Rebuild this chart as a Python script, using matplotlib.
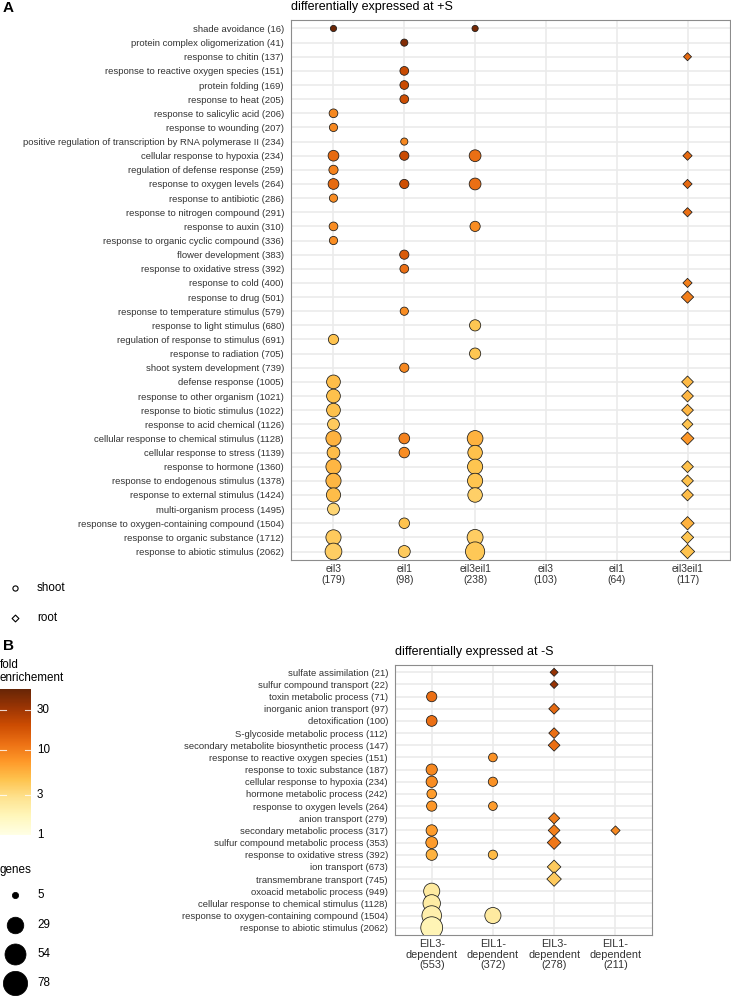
import numpy as np
import matplotlib
matplotlib.use("Agg")
import matplotlib.pyplot as plt
from matplotlib.colors import LogNorm

plt.rcParams['font.family'] = ['Liberation Sans', 'DejaVu Sans']

# ---------------- data: panel A ----------------
A_terms = [
    "shade avoidance (16)", "protein complex oligomerization (41)", "response to chitin (137)",
    "response to reactive oxygen species (151)", "protein folding (169)", "response to heat (205)",
    "response to salicylic acid (206)", "response to wounding (207)",
    "positive regulation of transcription by RNA polymerase II (234)",
    "cellular response to hypoxia (234)", "regulation of defense response (259)",
    "response to oxygen levels (264)", "response to antibiotic (286)",
    "response to nitrogen compound (291)", "response to auxin (310)",
    "response to organic cyclic compound (336)", "flower development (383)",
    "response to oxidative stress (392)", "response to cold (400)", "response to drug (501)",
    "response to temperature stimulus (579)", "response to light stimulus (680)",
    "regulation of response to stimulus (691)", "response to radiation (705)",
    "shoot system development (739)", "defense response (1005)",
    "response to other organism (1021)", "response to biotic stimulus (1022)",
    "response to acid chemical (1126)", "cellular response to chemical stimulus (1128)",
    "cellular response to stress (1139)", "response to hormone (1360)",
    "response to endogenous stimulus (1378)", "response to external stimulus (1424)",
    "multi-organism process (1495)", "response to oxygen-containing compound (1504)",
    "response to organic substance (1712)", "response to abiotic stimulus (2062)"]
A_columns = ["eil3\n(179)", "eil1\n(98)", "eil3eil1\n(238)", "eil3\n(103)", "eil1\n(64)", "eil3eil1\n(117)"]
A_tissue = ["shoot", "shoot", "shoot", "root", "root", "root"]

# column 0: eil3 shoot
A0_rows  = [0, 6, 7, 9, 10, 11, 12, 14, 15, 22, 25, 26, 27, 28, 29, 30, 31, 32, 33, 34, 36, 37]
A0_genes = [5, 6.4, 5.9, 9.6, 7, 9.6, 5.9, 6.4, 5.9, 8.6, 17.7, 17.7, 17.7, 12, 23, 14.5, 23, 23, 19.4, 12.3, 23, 30]
A0_fold  = [50, 9, 9, 13, 9.5, 13, 8.5, 8.5, 8.5, 4.5, 4.8, 4.6, 4.6, 4.0, 5.5, 4.8, 5.2, 5.2, 4.8, 3.4, 4.0, 3.8]
# column 1: eil1 shoot
A1_rows  = [1, 3, 4, 5, 8, 9, 11, 16, 17, 20, 24, 29, 30, 35, 37]
A1_genes = [5.2, 6.4, 6.4, 6.4, 5.2, 7, 7, 7, 6.4, 5.9, 7, 9.6, 9.2, 9.2, 12.3]
A1_fold  = [40, 20, 20, 19, 9, 20, 19, 16, 12, 8.5, 9, 9.5, 8.5, 4.5, 4.0]
# column 2: eil3eil1 shoot
A2_rows  = [0, 9, 11, 14, 21, 23, 29, 30, 31, 32, 33, 36, 37]
A2_genes = [5, 12, 12, 8.6, 10.6, 10.6, 25.3, 20.5, 23, 23, 20.5, 26.2, 43]
A2_fold  = [45, 12, 12, 8.5, 4.3, 4.3, 5.5, 4.6, 4.4, 4.4, 3.7, 3.8, 4.2]
# column 5: eil3eil1 root
A5_rows  = [2, 9, 11, 13, 18, 19, 25, 26, 27, 28, 29, 31, 32, 33, 35, 36, 37]
A5_genes = [5, 5.2, 5.2, 5.2, 5.2, 7.6, 7, 7, 7, 6.1, 8.3, 7, 7, 7, 9, 7.6, 10.6]
A5_fold  = [13, 13, 13, 12, 10, 10, 5, 5.2, 5.2, 4.5, 7.5, 4.6, 4.6, 4.8, 5.5, 4.4, 4.5]

# ---------------- data: panel B ----------------
B_terms = [
    "sulfate assimilation (21)", "sulfur compound transport (22)", "toxin metabolic process (71)",
    "inorganic anion transport (97)", "detoxification (100)", "S-glycoside metabolic process (112)",
    "secondary metabolite biosynthetic process (147)", "response to reactive oxygen species (151)",
    "response to toxic substance (187)", "cellular response to hypoxia (234)",
    "hormone metabolic process (242)", "response to oxygen levels (264)", "anion transport (279)",
    "secondary metabolic process (317)", "sulfur compound metabolic process (353)",
    "response to oxidative stress (392)", "ion transport (673)", "transmembrane transport (745)",
    "oxoacid metabolic process (949)", "cellular response to chemical stimulus (1128)",
    "response to oxygen-containing compound (1504)", "response to abiotic stimulus (2062)"]
B_columns = ["EIL3-\ndependent\n(553)", "EIL1-\ndependent\n(372)", "EIL3-\ndependent\n(278)", "EIL1-\ndependent\n(211)"]
B_tissue = ["shoot", "shoot", "root", "root"]

B0_rows  = [2, 4, 8, 9, 10, 11, 13, 14, 15, 18, 19, 20, 21]
B0_genes = [8.6, 9.6, 10.6, 10.6, 7.5, 8.6, 10.6, 12, 10.6, 27, 33, 45, 60]
B0_fold  = [12, 12, 9, 8.5, 7, 7.5, 7, 7, 5.5, 2.3, 2.2, 2.0, 1.8]
B1_rows  = [7, 9, 11, 15, 20]
B1_genes = [6.4, 7, 6.4, 7, 27]
B1_fold  = [8, 8, 7, 5, 2.3]
B2_rows  = [0, 1, 3, 5, 6, 12, 13, 14, 16, 17]
B2_genes = [5, 5, 6, 6, 7, 6.5, 7, 9.5, 9.5, 11]
B2_fold  = [33, 32, 13, 12, 12, 10, 10, 11, 4, 4]
B3_rows  = [13]
B3_genes = [5.2]
B3_fold  = [9]

# legends
fold_ticks = [1, 3, 10, 30]
fold_max = 53
gene_breaks = [5, 29, 54, 78]

# ---------------- drawing ----------------
W, H = 731, 997
fig = plt.figure(figsize=(W / 100, H / 100), dpi=100)
cmap = plt.get_cmap("YlOrBr")
norm = LogNorm(vmin=1, vmax=fold_max)
LW = 0.55
PX = 100 / 72.0


def add_ax(l, t, r, b):
    return fig.add_axes([l / W, 1 - b / H, (r - l) / W, (b - t) / H])


def circ_d(g):
    return 7 + 18 * np.sqrt((np.asarray(g, float) - 5) / 73)


def s_circle(g):
    return (circ_d(g) / PX - LW) ** 2


def s_diamond(g):
    diag = 1.2533 * circ_d(g) / PX - LW
    return (diag / np.sqrt(2)) ** 2


def panel(box, terms, cols, tissues, series, title, ylab_size, xlab_size, xls):
    ax = add_ax(*box)
    n, m = len(terms), len(cols)
    ax.set_xlim(-0.6, m - 1 + 0.6)
    ax.set_ylim(n - 1 + 0.6, -0.6)
    ax.set_xticks(range(m))
    ax.set_xticklabels(cols, fontsize=xlab_size, color="#333333", linespacing=xls)
    ax.set_yticks(range(n))
    ax.set_yticklabels(terms, fontsize=ylab_size, color="#333333")
    ax.tick_params(axis="y", length=0, pad=5)
    ax.tick_params(axis="x", length=0, pad=3)
    ax.grid(True, color="#ebebeb", lw=1.2)
    ax.set_axisbelow(True)
    for sp in ax.spines.values():
        sp.set_color("#8c8c8c")
        sp.set_linewidth(0.8)
    for col, (rows, genes, fold) in series.items():
        if tissues[col] == "shoot":
            ax.scatter([col] * len(rows), rows, s=s_circle(genes), c=fold, cmap=cmap, norm=norm,
                       marker="o", edgecolors="#1a1a1a", linewidths=LW, zorder=3)
        else:
            ax.scatter([col] * len(rows), rows, s=s_diamond(genes), c=fold, cmap=cmap, norm=norm,
                       marker="D", edgecolors="#1a1a1a", linewidths=LW, zorder=3)
    fig.text(box[0] / W, 1 - (box[1] - 13) / H, title, ha="left", va="center", fontsize=9)
    return ax


panel((291, 20, 730, 560), A_terms, A_columns, A_tissue,
      {0: (A0_rows, A0_genes, A0_fold), 1: (A1_rows, A1_genes, A1_fold),
       2: (A2_rows, A2_genes, A2_fold), 5: (A5_rows, A5_genes, A5_fold)},
      "differentially expressed at +S", 6.8, 7.4, 1.05)

panel((395, 665, 652, 935), B_terms, B_columns, B_tissue,
      {0: (B0_rows, B0_genes, B0_fold), 1: (B1_rows, B1_genes, B1_fold),
       2: (B2_rows, B2_genes, B2_fold), 3: (B3_rows, B3_genes, B3_fold)},
      "differentially expressed at -S", 6.8, 7.8, 1.05)

# panel letters
fig.text(3 / W, 1 - 8 / H, "A", fontsize=11, fontweight="bold", ha="left", va="center")
fig.text(3 / W, 1 - 646 / H, "B", fontsize=11, fontweight="bold", ha="left", va="center")

# shape legend
lax = fig.add_axes([0, 0, 1, 1])
lax.set_xlim(0, W)
lax.set_ylim(H, 0)
lax.axis("off")
lax.scatter([15], [588], s=(5.2 / PX) ** 2, marker="o", facecolors="white", edgecolors="black", linewidths=0.8)
lax.scatter([15], [618], s=(6.8 / PX / np.sqrt(2)) ** 2, marker="D", facecolors="white", edgecolors="black", linewidths=0.8)
lax.text(37, 588, "shoot", fontsize=8.4, va="center", ha="left")
lax.text(37, 618, "root", fontsize=8.4, va="center", ha="left")

# colorbar legend
lax.text(0, 665, "fold", fontsize=8.4, va="center", ha="left")
lax.text(0, 678, "enrichement", fontsize=8.4, va="center", ha="left")
cax = add_ax(0, 689, 31, 835)
vals = np.logspace(0, np.log10(fold_max), 256)
cax.pcolormesh([0, 1], vals, vals[:-1, None], cmap=cmap, norm=norm, shading="flat")
cax.set_yscale("log")
cax.set_ylim(1, fold_max)
cax.set_xlim(0, 1)
cax.axis("off")
for t in fold_ticks:
    if t > 1:
        cax.plot([0, 0.2], [t, t], color="white", lw=0.8, alpha=0.8)
        cax.plot([0.8, 1], [t, t], color="white", lw=0.8, alpha=0.8)
    ypix = 835 - (835 - 689) * np.log10(t) / np.log10(fold_max)
    lax.text(37, ypix, str(t), fontsize=8.4, va="center", ha="left")

# size legend
lax.text(0, 870, "genes", fontsize=8.4, va="center", ha="left")
for g, yy in zip(gene_breaks, [895, 925, 954, 983]):
    lax.scatter([15], [yy], s=s_circle(g), marker="o", color="black", linewidths=LW)
    lax.text(37, yy, str(g), fontsize=8.4, va="center", ha="left")

fig.savefig("out.png", dpi=100)
